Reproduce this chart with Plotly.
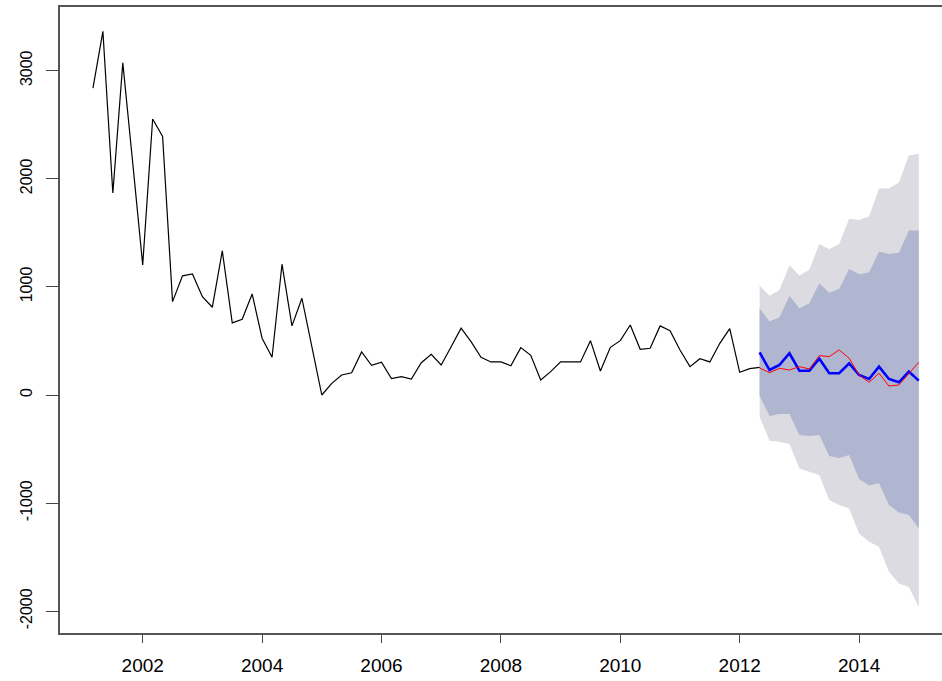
import plotly.graph_objects as go

# Bimonthly series (frequency 6), starting 2001 + 1/6
START_YEAR = 2001
START_PERIOD = 1
FREQ = 6

history = [2838, 3364, 1868, 3072, 2145, 1204, 2553, 2392, 864, 1102,
           1120, 910, 812, 1333, 667, 700, 935, 525, 349, 1210,
           639, 895, 447, 0, 108, 185, 206, 398, 275, 303,
           151, 170, 148, 299, 377, 278, 447, 618, 494, 349,
           306, 306, 271, 438, 367, 139, 216, 306, 306, 306,
           503, 222, 441, 503, 648, 423, 432, 639, 595, 416,
           262, 336, 306, 478, 614, 210, 244, 256]

# Forecast horizon starts at the last observed period
fc_mean = [395, 231, 278, 386, 225, 225, 336, 201, 201, 293,
           185, 148, 262, 148, 117, 216, 133]
fc_hi80 = [803, 679, 719, 917, 803, 849, 1034, 947, 981, 1167,
           1118, 1133, 1327, 1305, 1317, 1521, 1521]
fc_lo80 = [-9, -194, -176, -176, -370, -379, -370, -564, -583, -555,
           -777, -838, -817, -1018, -1088, -1110, -1233]
fc_hi95 = [1012, 917, 972, 1201, 1105, 1158, 1398, 1349, 1398, 1630,
           1620, 1651, 1911, 1911, 1966, 2216, 2232]
fc_lo95 = [-200, -423, -432, -453, -679, -710, -740, -972, -1018, -1049,
           -1281, -1358, -1404, -1635, -1744, -1775, -1960]
actual = [250, 207, 247, 231, 262, 241, 364, 355, 417, 340,
          185, 117, 201, 83, 93, 201, 303]

x_ticks = [2002, 2004, 2006, 2008, 2010, 2012, 2014]
y_ticks = [-2000, -1000, 0, 1000, 2000, 3000]

t_hist = [START_YEAR + (START_PERIOD + i) / FREQ for i in range(len(history))]
t0 = t_hist[-1]
t_fc = [t0 + i / FREQ for i in range(len(fc_mean))]

LIGHT = "#DBDBE1"
DARK = "#B1B6D0"

fig = go.Figure()

# 95% interval
fig.add_trace(go.Scatter(
    x=t_fc + t_fc[::-1], y=fc_hi95 + fc_lo95[::-1],
    fill="toself", fillcolor=LIGHT, line=dict(width=0),
    mode="lines", hoverinfo="skip", showlegend=False))
# 80% interval
fig.add_trace(go.Scatter(
    x=t_fc + t_fc[::-1], y=fc_hi80 + fc_lo80[::-1],
    fill="toself", fillcolor=DARK, line=dict(width=0),
    mode="lines", hoverinfo="skip", showlegend=False))
# observed series
fig.add_trace(go.Scatter(
    x=t_hist, y=history, mode="lines",
    line=dict(color="black", width=1.2), showlegend=False))
# point forecast
fig.add_trace(go.Scatter(
    x=t_fc, y=fc_mean, mode="lines",
    line=dict(color="#0000FF", width=2.6), showlegend=False))
# hold-out values
fig.add_trace(go.Scatter(
    x=t_fc, y=actual, mode="lines",
    line=dict(color="#FF0000", width=1), showlegend=False))

px_per_year = 59.7
x_left = 2002 - (142.7 - 60) / px_per_year
x_right = x_left + 882 / px_per_year

px_per_unit = (395 - 70.7) / 3000
y_top = (395 - 7) / px_per_unit
y_bottom = -(633 - 395) / px_per_unit

fig.update_layout(
    width=942, height=681,
    margin=dict(l=60, r=0, t=7, b=48),
    paper_bgcolor="white", plot_bgcolor="white",
    font=dict(family="Liberation Sans, Arial, sans-serif", color="black"),
    xaxis=dict(
        range=[x_left, x_right], tickvals=x_ticks,
        ticktext=[str(v) for v in x_ticks],
        showgrid=False, zeroline=False,
        showline=True, mirror=True, linecolor="#555555", linewidth=1.5,
        ticks="outside", ticklen=8, tickwidth=1.3, tickcolor="#444444",
        tickfont=dict(size=19), ticklabelstandoff=6),
    yaxis=dict(
        range=[y_bottom, y_top], tickvals=y_ticks,
        ticktext=[str(v) for v in y_ticks],
        showgrid=False, zeroline=False,
        showline=True, linecolor="#555555", linewidth=1.5,
        ticks="outside", ticklen=12, tickwidth=1.3, tickcolor="#444444",
        tickangle=-90, tickfont=dict(size=16), ticklabelstandoff=8),
)

fig.write_html("out.html")
